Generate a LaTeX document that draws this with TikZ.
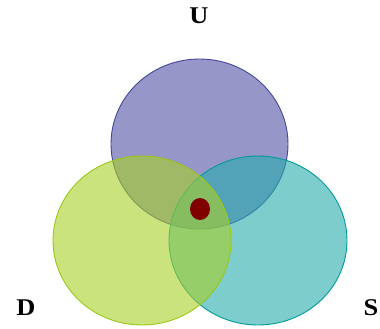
\documentclass[tikz,border=0pt]{standalone}
\usepackage{fontspec}
\setmainfont{Liberation Serif}
\usetikzlibrary{positioning}
\definecolor{setU}{RGB}{80,80,163}
\definecolor{setUline}{RGB}{70,70,155}
\definecolor{setD}{RGB}{168,208,38}
\definecolor{setDline}{RGB}{155,200,20}
\definecolor{setS}{RGB}{38,172,172}
\definecolor{setSline}{RGB}{0,155,155}
\definecolor{dotred}{RGB}{128,0,0}
\tikzset{
  setarea/.style  = {fill opacity=0.6, line width=0.9pt},
  setlabel/.style = {font=\fontsize{24}{24}\selectfont\bfseries, inner sep=0pt, xscale=1.1}
}
\begin{document}
\begin{tikzpicture}[x=1pt,y=-1pt]
  \useasboundingbox (0,0) rectangle (380,329);
  % the three sets
  \filldraw[setarea, fill=setU, draw=setUline] (199.5,144) ellipse [x radius=88.5, y radius=85];
  \filldraw[setarea, fill=setS, draw=setSline] (258,240.5) ellipse [x radius=89, y radius=84.5];
  \filldraw[setarea, fill=setD, draw=setDline] (142,240.5) ellipse [x radius=89, y radius=84.5];
  % common point
  \fill[dotred] (200,209) ellipse [x radius=10, y radius=11];
  % labels
  \node[setlabel] (labU) at (199,16) {U};
  \node[setlabel] (labD) at (26,308) {D};
  \node[setlabel] (labS) at (371,308) {S};
\end{tikzpicture}
\end{document}
